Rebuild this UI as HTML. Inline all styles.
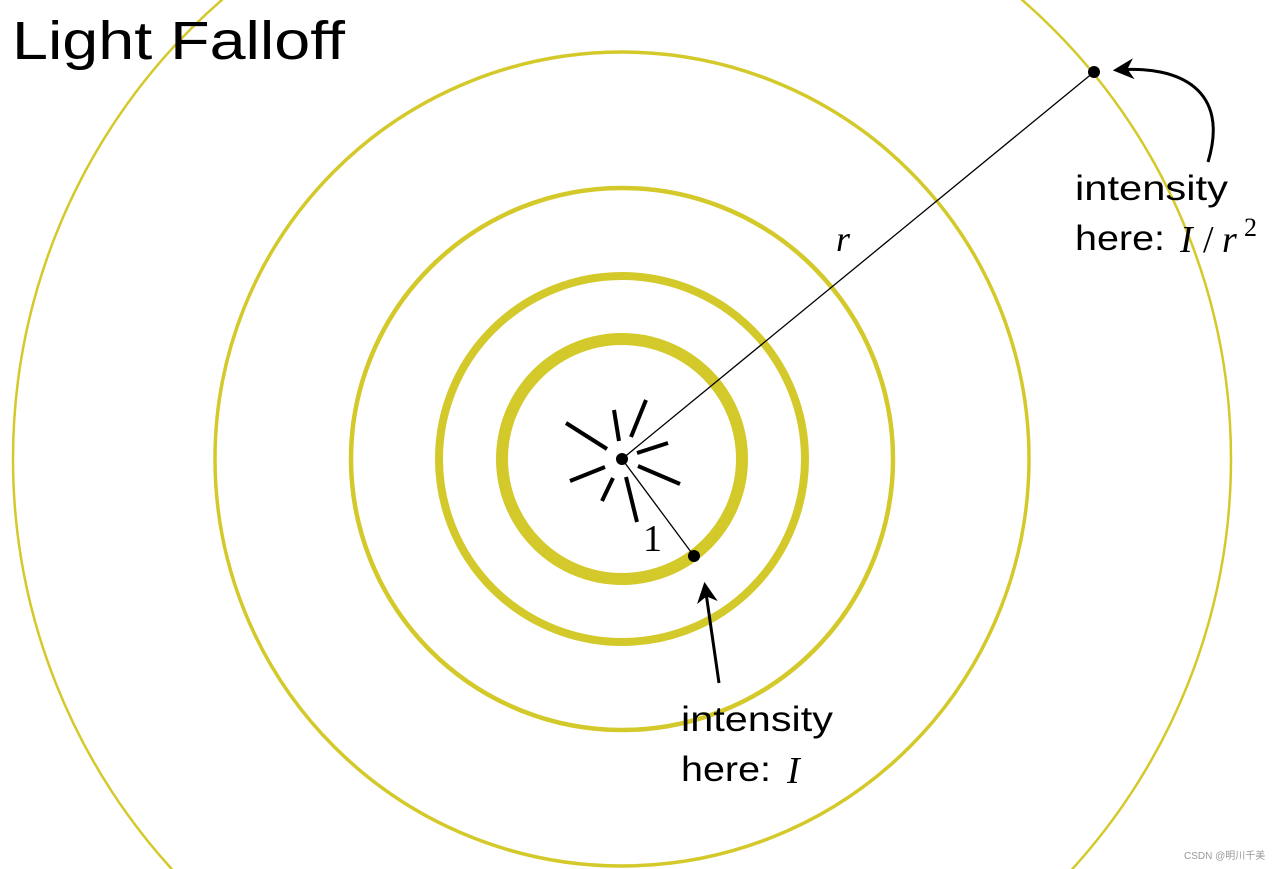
<!DOCTYPE html>
<html><head><style>
html,body{margin:0;padding:0;background:#fff;width:1276px;height:869px;overflow:hidden}
svg{display:block;position:absolute;left:0;top:0}
.lab{font-family:"Liberation Sans",sans-serif;font-size:35px;fill:#000}
.m{font-family:"Liberation Serif",serif;font-style:italic;fill:#000}
</style></head><body>
<svg width="1276" height="869" viewBox="0 0 1276 869">
<defs><marker id="ah" viewBox="0 0 10 10" refX="8" refY="5" markerWidth="7" markerHeight="7" orient="auto"><path d="M0,0 L10,5 L0,10 L3,5 z" fill="#000"/></marker></defs>
<g fill="none" stroke="#d4c92a">
<circle cx="622" cy="459" r="120" stroke-width="12"/>
<circle cx="622" cy="459" r="183" stroke-width="8"/>
<circle cx="622" cy="459" r="271" stroke-width="4.5"/>
<circle cx="622" cy="459" r="407" stroke-width="3.5"/>
<circle cx="622" cy="459" r="609" stroke-width="2.5"/>
</g>
<g stroke="#000" stroke-width="4" stroke-linecap="butt">
<line x1="566" y1="423" x2="607" y2="449"/>
<line x1="614" y1="410" x2="619" y2="441"/>
<line x1="646" y1="400" x2="631" y2="437"/>
<line x1="637" y1="453" x2="668" y2="443"/>
<line x1="638" y1="466" x2="680" y2="484"/>
<line x1="570" y1="481" x2="605" y2="467"/>
<line x1="602" y1="501" x2="613" y2="478"/>
<line x1="626" y1="477" x2="637" y2="522"/>
</g>
<g stroke="#000" stroke-width="1.3">
<line x1="622" y1="459" x2="1094" y2="72"/>
<line x1="622" y1="459" x2="694" y2="556"/>
</g>
<circle cx="622" cy="459" r="6" fill="#000"/>
<circle cx="1094" cy="72" r="6" fill="#000"/>
<circle cx="694" cy="556" r="6" fill="#000"/>
<path d="M1208,162 C1230,90 1180,65 1117,70" fill="none" stroke="#000" stroke-width="3" marker-end="url(#ah)"/>
<path d="M719,683 L705,586" fill="none" stroke="#000" stroke-width="3" marker-end="url(#ah)"/>
<text x="12" y="59" font-family="Liberation Sans,sans-serif" font-size="54" fill="#000" textLength="333" lengthAdjust="spacingAndGlyphs">Light Falloff</text>
<text x="836" y="251" class="m" font-size="36">r</text>
<text x="643" y="551" font-family="Liberation Serif,serif" font-size="38" fill="#000">1</text>
<text x="1075" y="200" class="lab" textLength="153" lengthAdjust="spacingAndGlyphs">intensity</text>
<text x="1075" y="250" class="lab" textLength="90" lengthAdjust="spacingAndGlyphs">here:</text>
<text x="1180" y="252" class="m" font-size="38">I</text>
<text x="1203" y="252" font-family="Liberation Serif,serif" font-size="38">/</text>
<text x="1222" y="252" class="m" font-size="38">r</text>
<text x="1244" y="236" font-family="Liberation Serif,serif" font-size="26">2</text>
<text x="681" y="731" class="lab" textLength="152" lengthAdjust="spacingAndGlyphs">intensity</text>
<text x="681" y="781" class="lab" textLength="90" lengthAdjust="spacingAndGlyphs">here:</text>
<text x="787" y="783" class="m" font-size="38">I</text>
<text x="1184" y="859" font-family="Liberation Sans,sans-serif" font-size="10" fill="#999">CSDN @明川千美</text>
</svg>
</body></html>
